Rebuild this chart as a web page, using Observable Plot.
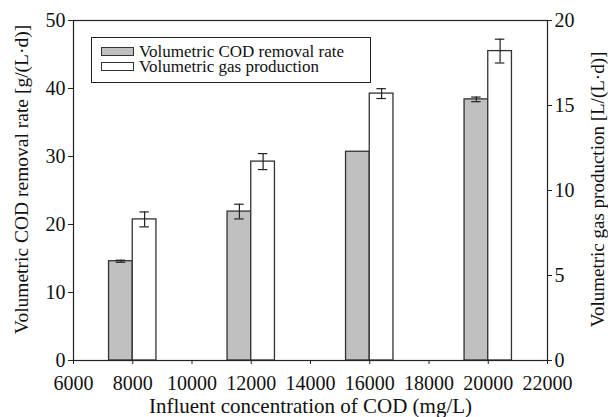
<!DOCTYPE html>
<html>
<head>
<meta charset="utf-8">
<script src="https://cdn.jsdelivr.net/npm/d3@7"></script>
<script src="https://cdn.jsdelivr.net/npm/@observablehq/plot@0.6"></script>
<style>
  body { margin: 0; background: #fff; }
  #wrap { position: relative; width: 608px; height: 417px; font-family: 'Liberation Serif', 'Times New Roman', serif; color: #111; }
  #legend { position: absolute; left: 91px; top: 37px; width: 280px; height: 46px; box-sizing: border-box;
            border: 1px solid #222; background: #fff; padding: 6px 0 0 9px; font-size: 17px; line-height: 15px; }
  .row { display: flex; align-items: center; white-space: nowrap; }
  .sw { width: 31px; height: 7px; border: 1px solid #333; margin-right: 5px; flex: none; }
</style>
</head>
<body>
<div id="wrap"></div>
<script>
// ---- data ----
const concentrations = [8000, 12000, 16000, 20000];           // influent COD (mg/L)
const codRemoval = [14.6, 21.9, 30.7, 38.4];                  // g/(L·d), left axis
const codRemovalErr = [0.15, 1.08, 0, 0.34];
const gasProduction = [8.3, 11.7, 15.7, 18.2];                // L/(L·d), right axis
const gasProductionErr = [0.44, 0.47, 0.29, 0.7];
const seriesNames = ["Volumetric COD removal rate", "Volumetric gas production"];
const xTicks = [6000, 8000, 10000, 12000, 14000, 16000, 18000, 20000, 22000];
const leftTicks = [0, 10, 20, 30, 40, 50];
const rightTicks = [0, 5, 10, 15, 20];
const xLabel = "Influent concentration of COD (mg/L)";
const leftLabel = "Volumetric COD removal rate [g/(L·d)]";
const rightLabel = "Volumetric gas production [L/(L·d)]";

// ---- styling ----
const leftMax = 50, rightMax = 20, ratio = leftMax / rightMax;
const barW = 800, capW = 160;
const colors = ["#c0c0c0", "#ffffff"];

const codRows = concentrations.map((c, i) => ({x1: c - barW, x2: c, cx: c - barW / 2, y: codRemoval[i], e: codRemovalErr[i]}));
const gasRows = concentrations.map((c, i) => ({x1: c, x2: c + barW, cx: c + barW / 2, y: gasProduction[i] * ratio, e: gasProductionErr[i] * ratio}));
const errRows = [...codRows, ...gasRows].filter(d => d.e > 0);

const chart = Plot.plot({
  width: 608, height: 417,
  marginLeft: 73, marginRight: 61, marginTop: 20, marginBottom: 57,
  style: {fontFamily: "'Liberation Serif', 'Times New Roman', serif", fontSize: "20px", color: "#111", background: "#fff"},
  x: {domain: [6000, 22000]},
  y: {domain: [0, leftMax]},
  marks: [
    Plot.rect(codRows, {x1: "x1", x2: "x2", y1: 0, y2: "y", fill: colors[0], stroke: "#333", strokeWidth: 1.3}),
    Plot.rect(gasRows, {x1: "x1", x2: "x2", y1: 0, y2: "y", fill: colors[1], stroke: "#333", strokeWidth: 1.3}),
    Plot.ruleX(errRows, {x: "cx", y1: d => d.y - d.e, y2: d => d.y + d.e, stroke: "#222", strokeWidth: 1.2}),
    Plot.ruleY(errRows, {y: d => d.y - d.e, x1: d => d.cx - capW, x2: d => d.cx + capW, stroke: "#222", strokeWidth: 1.2}),
    Plot.ruleY(errRows, {y: d => d.y + d.e, x1: d => d.cx - capW, x2: d => d.cx + capW, stroke: "#222", strokeWidth: 1.2}),
    Plot.frame({stroke: "#222", strokeWidth: 1.2}),
    Plot.axisX({ticks: xTicks, tickFormat: d3.format("d"), tickSize: 4, tickPadding: 11, label: null, stroke: "#222", fontSize: 20}),
    Plot.axisY({anchor: "left", ticks: leftTicks, tickSize: 5, tickPadding: 3, label: null, stroke: "#222", fontSize: 20}),
    Plot.axisY({anchor: "right", ticks: rightTicks.map(v => v * ratio), tickFormat: v => String(Math.round(v / ratio)), tickSize: 4, tickPadding: 3, label: null, stroke: "#222", fontSize: 20}),
    Plot.text([xLabel], {frameAnchor: "bottom", dy: 52, fontSize: 21, fill: "#111"}),
    Plot.text([leftLabel], {frameAnchor: "left", textAnchor: "middle", lineAnchor: "middle", rotate: -90, dx: -52, dy: -11, fontSize: 19.5, fill: "#111"}),
    Plot.text([rightLabel], {frameAnchor: "right", textAnchor: "middle", lineAnchor: "middle", rotate: -90, dx: 50, dy: -1, fontSize: 19, fill: "#111"})
  ]
});

const wrap = document.getElementById("wrap");
wrap.appendChild(chart);

const legend = document.createElement("div");
legend.id = "legend";
seriesNames.forEach((name, i) => {
  const row = document.createElement("div");
  row.className = "row";
  const sw = document.createElement("span");
  sw.className = "sw";
  sw.style.background = colors[i];
  const label = document.createElement("span");
  label.textContent = name;
  row.appendChild(sw);
  row.appendChild(label);
  legend.appendChild(row);
});
wrap.appendChild(legend);
</script>
</body>
</html>
